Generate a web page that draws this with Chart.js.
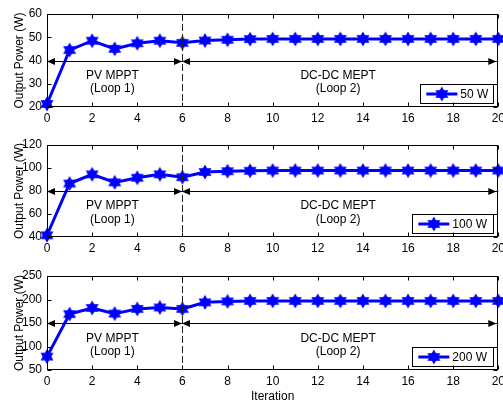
<!DOCTYPE html>
<html><head><meta charset="utf-8">
<script src="https://cdn.jsdelivr.net/npm/chart.js@4.4.0/dist/chart.umd.min.js"></script>
<style>
html,body{margin:0;padding:0;background:#fff;overflow:hidden;width:503px;height:400px;}
canvas{position:absolute;left:0;}
</style></head><body>
<canvas id="c1" style="top:0px" width="509" height="130"></canvas>
<canvas id="c2" style="top:130px" width="509" height="130"></canvas>
<canvas id="c3" style="top:260px" width="509" height="144"></canvas>
<script>
const iterations = [0,1,2,3,4,5,6,7,8,9,10,11,12,13,14,15,16,17,18,19,20];
const power50  = [21.3,44.5,48.5,45.0,47.4,48.5,47.6,48.6,48.9,49.2,49.3,49.3,49.3,49.3,49.3,49.3,49.3,49.3,49.3,49.3,49.3];
const power100 = [41.5,86.5,94.5,87.5,91.5,94.5,92.0,96.5,97.2,97.6,97.8,97.8,97.8,97.8,97.8,97.8,97.8,97.8,97.8,97.8,97.8];
const power200 = [78.5,169,182,170,180,183,180,194,196,197,197,197,197,197,197,197,197,197,197,197,197];
const seriesLabels = ['50 W','100 W','200 W'];
const yTicks1 = [20,30,40,50,60];
const yTicks2 = [40,60,80,100,120];
const yTicks3 = [50,100,150,200,250];
const xTicks = [0,2,4,6,8,10,12,14,16,18,20];
const loopSwitch = 6;
const arrowLevels = [40,80,150];
const loop1Text = ['PV MPPT','(Loop 1)'];
const loop2Text = ['DC-DC MEPT','(Loop 2)'];

const BLUE = '#0000FF';
const FONT = '"Liberation Sans", Arial, sans-serif';

function makeHexagram(r){
  const s = Math.ceil(r*2+3);
  const c = document.createElement('canvas');
  c.width = s; c.height = s;
  const g = c.getContext('2d');
  const cx = s/2, cy = s/2;
  g.fillStyle = BLUE; g.strokeStyle = BLUE; g.lineWidth = 1.2;
  for (const off of [-Math.PI/2, Math.PI/2]) {
    g.beginPath();
    for (let i=0;i<3;i++){
      const a = off + i*2*Math.PI/3;
      const x = cx + r*Math.cos(a), y = cy + r*Math.sin(a);
      if(i===0) g.moveTo(x,y); else g.lineTo(x,y);
    }
    g.closePath(); g.fill(); g.stroke();
  }
  return c;
}
const star = makeHexagram(6.3);

function arrowHead(ctx, x, y, dir){
  ctx.beginPath();
  ctx.moveTo(x, y);
  ctx.lineTo(x - dir*8, y - 3.5);
  ctx.lineTo(x - dir*8, y + 3.5);
  ctx.closePath();
  ctx.fill();
}

const decor = {
  id:'decor',
  afterDatasetsDraw(chart, args, opts){
    const ctx = chart.ctx, ca = chart.chartArea;
    const xs = chart.scales.x, ys = chart.scales.y;
    ctx.save();
    const xv = Math.round(xs.getPixelForValue(loopSwitch)) + 0.5;
    ctx.strokeStyle = '#222'; ctx.lineWidth = 1; ctx.setLineDash([7,3]);
    ctx.beginPath(); ctx.moveTo(xv, ca.top); ctx.lineTo(xv, ca.bottom); ctx.stroke();
    ctx.setLineDash([]);
    const ya = Math.round(ys.getPixelForValue(opts.level)) + 0.5;
    const x0 = xs.getPixelForValue(0), x20 = xs.getPixelForValue(20);
    ctx.strokeStyle = '#000'; ctx.fillStyle = '#000';
    ctx.beginPath(); ctx.moveTo(x0, ya); ctx.lineTo(x20, ya); ctx.stroke();
    arrowHead(ctx, x0, ya, -1);
    arrowHead(ctx, xv-0.5, ya, 1);
    arrowHead(ctx, xv-0.5, ya, -1);
    arrowHead(ctx, x20-2, ya, 1);
    ctx.font = '12px ' + FONT; ctx.textAlign = 'center'; ctx.textBaseline = 'middle';
    const h = ca.bottom - ca.top;
    const t1 = ca.top + 0.665*h, t2 = ca.top + 0.808*h;
    const xa = xs.getPixelForValue(2.9), xb = xs.getPixelForValue(12.9);
    ctx.fillText(loop1Text[0], xa, t1); ctx.fillText(loop1Text[1], xa, t2);
    ctx.fillText(loop2Text[0], xb, t1); ctx.fillText(loop2Text[1], xb, t2);
    const lw = opts.legendW, lh = 19;
    const lx = ca.right - 5 - lw, ly = ca.bottom - 4 - lh;
    ctx.fillStyle = '#fff'; ctx.fillRect(lx, ly, lw, lh);
    ctx.strokeStyle = '#000'; ctx.lineWidth = 1;
    ctx.strokeRect(Math.round(lx)+0.5, Math.round(ly)+0.5, lw, lh);
    const my = Math.round(ly + lh/2);
    ctx.strokeStyle = BLUE; ctx.lineWidth = 3;
    ctx.beginPath(); ctx.moveTo(lx+6, my); ctx.lineTo(lx+37, my); ctx.stroke();
    ctx.drawImage(star, lx+21.5 - star.width/2, my - star.height/2);
    ctx.fillStyle = '#000'; ctx.textAlign = 'left';
    ctx.fillText(chart.data.datasets[0].label, lx+40, my+0.5);
    ctx.strokeStyle = '#000'; ctx.lineWidth = 1;
    const L = Math.round(ca.left)+0.5, R = Math.round(ca.right)-0.5, T = Math.round(ca.top)+0.5, B = Math.round(ca.bottom)-0.5;
    ctx.strokeRect(L, T, R-L, B-T);
    ctx.beginPath();
    for (const v of xTicks){
      const px = Math.round(xs.getPixelForValue(v))+0.5;
      ctx.moveTo(px, B); ctx.lineTo(px, B-4);
      ctx.moveTo(px, T); ctx.lineTo(px, T+4);
    }
    for (const v of opts.yt){
      const py = Math.round(ys.getPixelForValue(v))+0.5;
      ctx.moveTo(L, py); ctx.lineTo(L+4, py);
      ctx.moveTo(R, py); ctx.lineTo(R-4, py);
    }
    ctx.stroke();
    ctx.restore();
  }
};

function makeChart(id, values, label, yt, level, legendW, areaTop, xAxisH, showXTitle){
  const pts = iterations.map((x,i)=>({x:x, y:values[i]}));
  return new Chart(document.getElementById(id), {
    type:'line',
    data:{ datasets:[{
      label: label, data: pts,
      borderColor: BLUE, backgroundColor: BLUE, borderWidth: 3,
      pointStyle: star, pointRadius: 6, pointHoverRadius: 6,
      tension: 0, clip: false
    }]},
    options:{
      responsive:false, animation:false, devicePixelRatio:1,
      layout:{ padding:{ left:0, right:0, top:areaTop, bottom:0 } },
      plugins:{ legend:{display:false}, tooltip:{enabled:false}, decor:{level:level, yt:yt, legendW:legendW} },
      scales:{
        x:{ type:'linear', min:0, max:20,
            afterBuildTicks(s){ s.ticks = xTicks.map(v=>({value:v})); },
            afterFit(s){ s.height = xAxisH; },
            grid:{ display:false, drawTicks:false }, border:{display:false},
            ticks:{ color:'#000', font:{family:FONT, size:12}, padding:4, maxRotation:0, autoSkip:false },
            title:{ display:showXTitle, text:'Iteration', color:'#000', font:{family:FONT, size:12}, padding:0 } },
        y:{ type:'linear', min:yt[0], max:yt[yt.length-1],
            afterBuildTicks(s){ s.ticks = yt.map(v=>({value:v})); },
            afterFit(s){ s.width = 47; },
            grid:{ display:false, drawTicks:false }, border:{display:false},
            ticks:{ color:'#000', font:{family:FONT, size:12}, padding:5, autoSkip:false },
            title:{ display:true, text:'Output Power (W)', color:'#000', font:{family:FONT, size:12}, padding:{top:12,bottom:0} } }
      }
    },
    plugins:[decor]
  });
}
makeChart('c1', power50, seriesLabels[0], yTicks1, arrowLevels[0], 73, 14, 23, false);
makeChart('c2', power100, seriesLabels[1], yTicks2, arrowLevels[1], 81, 15, 23, false);
makeChart('c3', power200, seriesLabels[2], yTicks3, arrowLevels[2], 81, 16, 34, true);
</script>
</body></html>
